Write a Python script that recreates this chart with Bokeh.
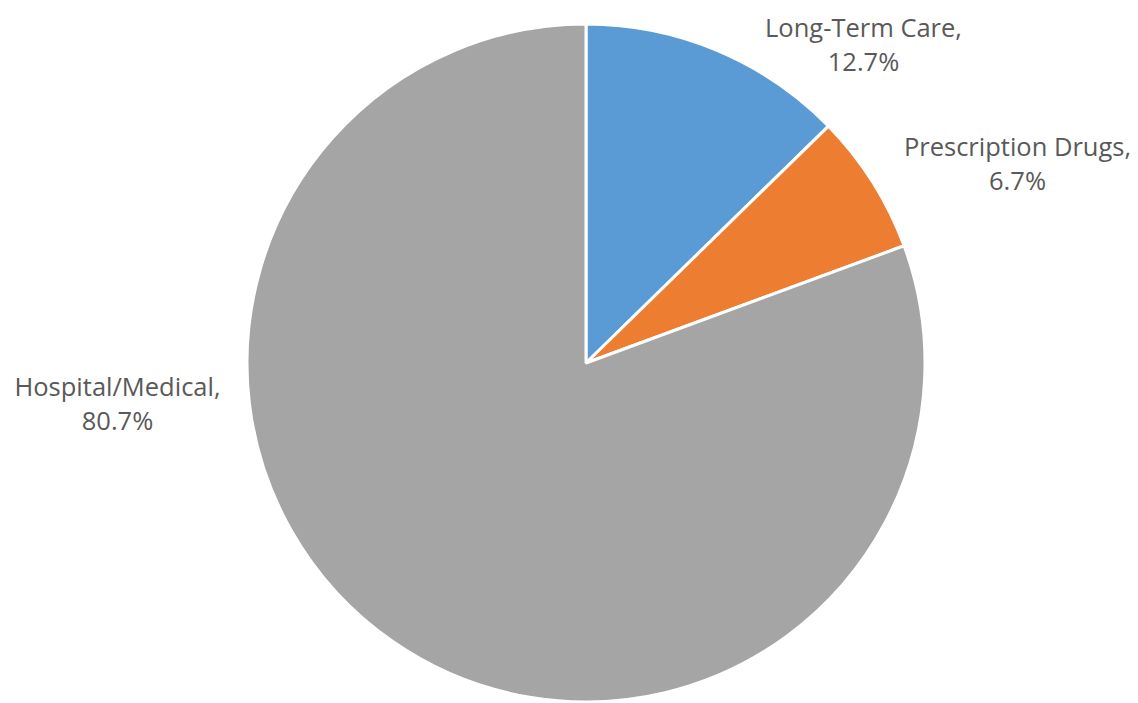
import math
from bokeh.plotting import figure
from bokeh.models import ColumnDataSource, Range1d
from bokeh.core.properties import value
from bokeh.embed import file_html
from bokeh.resources import INLINE

categories = ["Long-Term Care", "Prescription Drugs", "Hospital/Medical"]
shares = [12.7, 6.7, 80.7]
colors = ["#5B9BD5", "#ED7D31", "#A5A5A5"]

W, H = 1138, 703
p = figure(width=W, height=H, output_backend="svg", toolbar_location=None,
           x_range=Range1d(0, W), y_range=Range1d(0, H),
           min_border=0)
p.axis.visible = False
p.grid.visible = False
p.outline_line_color = None
p.background_fill_color = "white"
p.border_fill_color = "white"

total = sum(shares)
starts, ends = [], []
cum = 0.0
for s in shares:
    starts.append(math.pi / 2 - 2 * math.pi * cum / total)
    cum += s
    ends.append(math.pi / 2 - 2 * math.pi * cum / total)

cx, cy = 585.5, H - 362.5
src = ColumnDataSource(dict(x=[cx] * 3, y=[cy] * 3, start=starts, end=ends,
                            color=colors, cat=categories))
p.wedge(x="x", y="y", radius=339, radius_units="screen",
        start_angle="start", end_angle="end", direction="clock",
        fill_color="color", line_color="white", line_width=3, source=src)

# label anchor positions (page pixel coords)
label_pos = [(863, 43), (1017, 162), (117, 402)]
labels = [f"{c},\n{s:.1f}%" for c, s in zip(categories, shares)]
lsrc = ColumnDataSource(dict(x=[lp[0] for lp in label_pos],
                             y=[H - lp[1] for lp in label_pos],
                             t=labels))
p.text(x="x", y="y", text="t", source=lsrc, text_align="center",
       text_baseline="middle", text_font=value("Open Sans"),
       text_font_size="25.5px", text_color="#595959", text_line_height=1.0)

open("out.html", "w").write(file_html(p, INLINE))
